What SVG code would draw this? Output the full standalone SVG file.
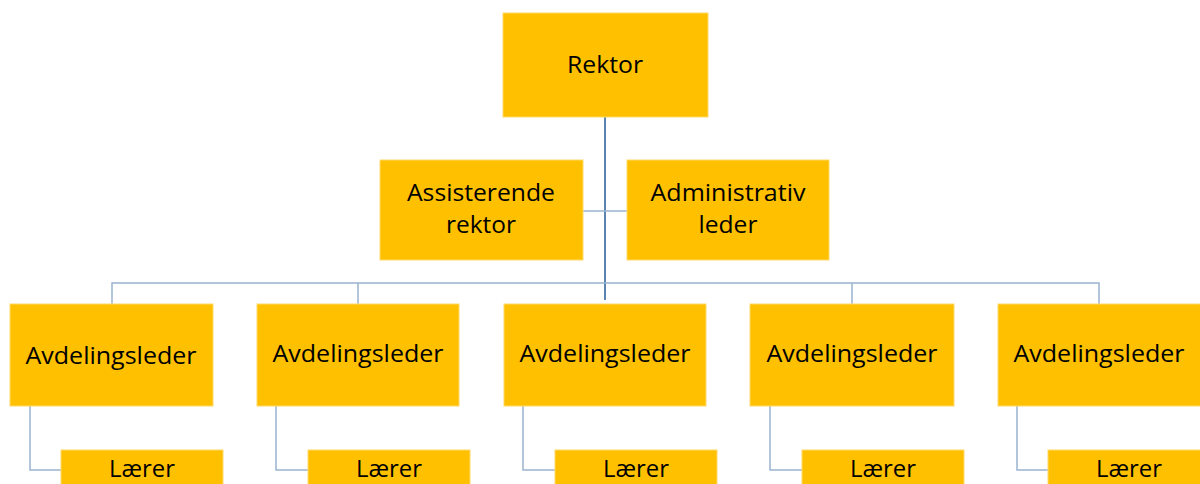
<svg xmlns="http://www.w3.org/2000/svg" width="1200" height="484" viewBox="0 0 1200 484">
<style>
.box{fill:#FFC000;stroke:#FFD966;stroke-width:1}
.t{font-family:"Open Sans","Liberation Sans",sans-serif;font-size:24px;fill:#000;text-anchor:middle}
.ln{fill:none;stroke:#9BB3D0;stroke-width:1.5}
.main{fill:none;stroke:#5B84B1;stroke-width:2}
</style>
<rect width="1200" height="484" fill="#fff"/>
<g id="connectors">
<path class="main" d="M605 117V300"/>
<path class="ln" d="M583 211H627"/>
<path class="ln" d="M112 304V283H1099V304M358 283V304M852 283V304"/>
<path class="ln" d="M30 406V470H61M276 406V470H308M523 406V470H555M770 406V470H802M1017 406V470H1048"/>
</g>
<g id="rektor"><rect class="box" x="503" y="13" width="205" height="104"/><text class="t" x="605" y="73" textLength="76" lengthAdjust="spacingAndGlyphs">Rektor</text></g>
<g id="assisterende"><rect class="box" x="380" y="160" width="203" height="100"/><text class="t" x="481" y="201" textLength="148" lengthAdjust="spacingAndGlyphs">Assisterende</text><text class="t" x="481" y="233" textLength="70" lengthAdjust="spacingAndGlyphs">rektor</text></g>
<g id="administrativ"><rect class="box" x="627" y="160" width="202" height="100"/><text class="t" x="728" y="201" textLength="155" lengthAdjust="spacingAndGlyphs">Administrativ</text><text class="t" x="728" y="233" textLength="59" lengthAdjust="spacingAndGlyphs">leder</text></g>
<g id="avd1"><rect class="box" x="10" y="304" width="203" height="102"/><text class="t" x="111" y="364" textLength="171" lengthAdjust="spacingAndGlyphs">Avdelingsleder</text></g>
<g id="avd2"><rect class="box" x="257" y="304" width="202" height="102"/><text class="t" x="358" y="362" textLength="171" lengthAdjust="spacingAndGlyphs">Avdelingsleder</text></g>
<g id="avd3"><rect class="box" x="504" y="304" width="202" height="102"/><text class="t" x="605" y="362" textLength="171" lengthAdjust="spacingAndGlyphs">Avdelingsleder</text></g>
<g id="avd4"><rect class="box" x="750" y="304" width="204" height="102"/><text class="t" x="852" y="362" textLength="171" lengthAdjust="spacingAndGlyphs">Avdelingsleder</text></g>
<g id="avd5"><rect class="box" x="998" y="304" width="203" height="102"/><text class="t" x="1099" y="362" textLength="171" lengthAdjust="spacingAndGlyphs">Avdelingsleder</text></g>
<g id="laerer1"><rect class="box" x="61" y="450" width="162" height="40"/><text class="t" x="142" y="477" textLength="66" lengthAdjust="spacingAndGlyphs">Lærer</text></g>
<g id="laerer2"><rect class="box" x="308" y="450" width="162" height="40"/><text class="t" x="389" y="477" textLength="66" lengthAdjust="spacingAndGlyphs">Lærer</text></g>
<g id="laerer3"><rect class="box" x="555" y="450" width="162" height="40"/><text class="t" x="636" y="477" textLength="66" lengthAdjust="spacingAndGlyphs">Lærer</text></g>
<g id="laerer4"><rect class="box" x="802" y="450" width="162" height="40"/><text class="t" x="883" y="477" textLength="66" lengthAdjust="spacingAndGlyphs">Lærer</text></g>
<g id="laerer5"><rect class="box" x="1048" y="450" width="162" height="40"/><text class="t" x="1129" y="477" textLength="66" lengthAdjust="spacingAndGlyphs">Lærer</text></g>
</svg>
